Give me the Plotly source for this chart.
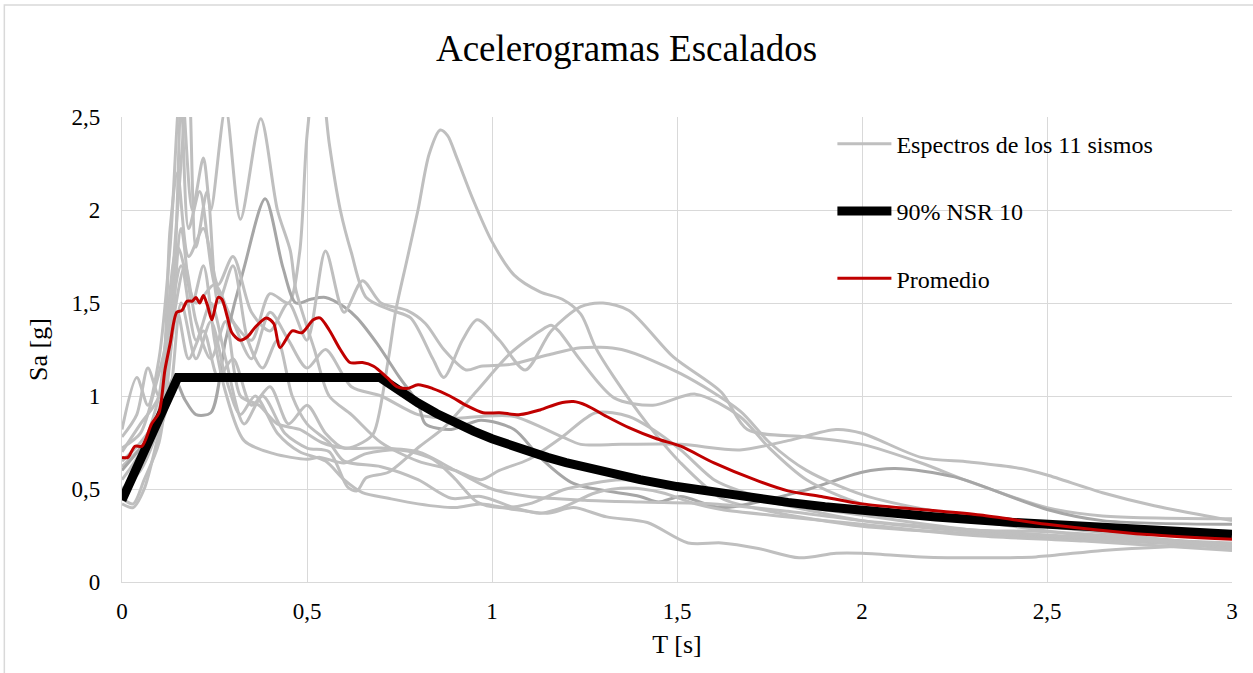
import plotly.graph_objects as go

# ---------------- data ----------------
T_A = [0, 0.04, 0.08, 0.12, 0.15, 0.18, 0.22, 0.26, 0.30, 0.35, 0.40, 0.45, 0.50, 0.55, 0.60, 0.65, 0.68, 0.72, 0.74, 0.77, 0.80, 0.83, 0.86, 0.88, 0.905, 0.95, 1.0, 1.06, 1.13, 1.19, 1.24, 1.28, 1.33, 1.42, 1.51, 1.62, 1.75, 2.0, 2.3, 2.6, 3.0]
SA_A = [0.62, 0.70, 0.80, 1.10, 1.45, 1.20, 1.35, 1.10, 1.20, 0.95, 1.05, 0.85, 0.95, 0.80, 0.72, 0.75, 0.80, 1.20, 1.46, 1.73, 2.00, 2.30, 2.43, 2.40, 2.28, 2.05, 1.83, 1.65, 1.56, 1.52, 1.44, 1.26, 1.10, 0.85, 0.64, 0.45, 0.38, 0.30, 0.26, 0.23, 0.19]

T_B = [0, 0.04, 0.07, 0.10, 0.14, 0.16, 0.18, 0.21, 0.25, 0.30, 0.35, 0.40, 0.45, 0.50, 0.55, 0.62, 0.70, 0.80, 0.90, 0.97, 1.06, 1.19, 1.24, 1.35, 1.51, 1.67, 1.80, 1.93, 2.0, 2.16, 2.29, 2.43, 2.5, 2.65, 2.79, 3.0]
SA_B = [0.78, 0.90, 1.15, 1.00, 1.60, 2.60, 1.90, 2.10, 1.60, 1.40, 1.20, 1.45, 1.30, 1.15, 1.25, 1.05, 1.00, 0.90, 0.88, 0.89, 0.89, 0.78, 0.74, 0.74, 0.74, 0.71, 0.76, 0.82, 0.80, 0.67, 0.645, 0.61, 0.575, 0.48, 0.41, 0.33]

T_C = [0, 0.05, 0.10, 0.15, 0.20, 0.25, 0.30, 0.35, 0.40, 0.45, 0.48, 0.50, 0.53, 0.56, 0.59, 0.62, 0.66, 0.73, 0.78, 0.84, 0.87, 0.92, 0.96, 1.02, 1.09, 1.16, 1.24, 1.30, 1.37, 1.49, 1.62, 1.69, 1.85, 2.0, 2.16, 2.29, 2.5, 2.65, 3.0]
SA_C = [0.55, 0.70, 1.00, 1.80, 1.50, 1.60, 1.40, 1.30, 1.55, 1.50, 1.77, 2.40, 2.85, 2.36, 2.00, 1.77, 1.53, 1.46, 1.42, 1.20, 1.10, 1.30, 1.41, 1.30, 1.14, 1.35, 1.48, 1.50, 1.46, 1.21, 1.02, 0.82, 0.78, 0.74, 0.64, 0.54, 0.40, 0.355, 0.34]

T_D = [0, 0.05, 0.10, 0.14, 0.17, 0.20, 0.24, 0.28, 0.33, 0.387, 0.435, 0.47, 0.51, 0.55, 0.60, 0.635, 0.69, 0.75, 0.80, 0.82, 0.89, 0.97, 1.06, 1.13, 1.22, 1.40, 1.45, 1.51, 1.62, 1.84, 2.0, 2.09, 2.25, 2.5, 2.65, 3.0]
SA_D = [0.60, 0.72, 0.85, 1.10, 0.98, 0.90, 0.91, 1.30, 1.69, 2.06, 1.69, 1.50, 1.52, 1.53, 1.48, 1.42, 1.28, 1.10, 0.96, 0.85, 0.82, 0.87, 0.82, 0.67, 0.53, 0.46, 0.43, 0.46, 0.40, 0.49, 0.59, 0.61, 0.565, 0.39, 0.33, 0.31]

T_E = [0, 0.03, 0.06, 0.10, 0.13, 0.16, 0.19, 0.22, 0.25, 0.28, 0.33, 0.41, 0.50, 0.535, 0.60, 0.66, 0.75, 0.84, 0.895, 0.96, 1.02, 1.10, 1.20, 1.35, 1.50, 1.70, 2.0, 2.3, 2.6, 3.0]
SA_E = [0.45, 0.42, 0.55, 0.75, 1.20, 1.90, 1.50, 1.70, 1.30, 1.02, 0.76, 0.69, 0.66, 0.67, 0.64, 0.69, 0.71, 0.66, 0.565, 0.43, 0.40, 0.42, 0.50, 0.55, 0.52, 0.45, 0.33, 0.27, 0.24, 0.21]

T_F = [0, 0.05, 0.10, 0.13, 0.15, 0.18, 0.22, 0.26, 0.30, 0.35, 0.40, 0.45, 0.50, 0.55, 0.60, 0.65, 0.70, 0.77, 0.82, 0.87, 0.93, 0.97, 1.05, 1.15, 1.24, 1.35, 1.51, 1.67, 1.75, 1.85, 2.0, 2.2, 2.5, 3.0]
SA_F = [0.70, 0.85, 1.00, 1.90, 2.20, 1.75, 1.90, 1.60, 1.75, 1.45, 1.35, 1.50, 1.30, 1.78, 1.45, 1.62, 1.50, 1.46, 1.39, 1.25, 1.14, 1.16, 1.17, 1.22, 1.26, 1.25, 1.12, 0.92, 0.75, 0.60, 0.47, 0.38, 0.30, 0.19]

T_G = [0, 0.04, 0.07, 0.10, 0.13, 0.16, 0.19, 0.22, 0.24, 0.28, 0.32, 0.375, 0.42, 0.455, 0.47, 0.52, 0.56, 0.62, 0.70, 0.80, 0.90, 0.97, 1.02, 1.10, 1.19, 1.28, 1.37, 1.435, 1.51, 1.60, 1.67, 1.8, 2.0, 2.3, 2.5, 3.0]
SA_G = [0.82, 1.10, 0.95, 1.20, 1.80, 2.70, 2.00, 2.28, 2.00, 2.55, 1.95, 2.49, 2.00, 1.78, 1.57, 1.25, 1.00, 0.90, 0.75, 0.65, 0.60, 0.55, 0.60, 0.66, 0.78, 0.91, 0.89, 0.82, 0.71, 0.55, 0.49, 0.42, 0.36, 0.28, 0.27, 0.20]

T_H = [0, 0.05, 0.10, 0.13, 0.16, 0.20, 0.24, 0.28, 0.33, 0.38, 0.44, 0.50, 0.56, 0.61, 0.635, 0.66, 0.72, 0.805, 0.87, 0.96, 1.05, 1.13, 1.16, 1.18, 1.24, 1.33, 1.435, 1.55, 1.67, 1.75, 1.85, 2.0, 2.3, 2.6, 3.0]
SA_H = [0.50, 0.60, 0.85, 1.40, 1.70, 1.30, 1.50, 1.20, 0.85, 1.00, 0.80, 0.72, 0.70, 0.51, 0.49, 0.56, 0.59, 0.73, 0.83, 1.03, 1.23, 1.35, 1.38, 1.35, 1.19, 0.99, 0.95, 1.01, 0.89, 0.72, 0.55, 0.42, 0.33, 0.25, 0.18]

T_J = [0, 0.05, 0.09, 0.12, 0.15, 0.18, 0.20, 0.23, 0.26, 0.30, 0.34, 0.38, 0.42, 0.46, 0.50, 0.56, 0.60, 0.70, 0.80, 0.89, 0.97, 1.06, 1.13, 1.19, 1.28, 1.37, 1.46, 1.55, 1.62, 1.8, 2.0, 2.3, 2.6, 3.0]
SA_J = [0.72, 0.80, 1.05, 1.30, 2.00, 2.70, 1.80, 2.10, 1.50, 1.70, 1.30, 1.15, 1.30, 1.00, 0.85, 0.75, 0.65, 0.62, 0.55, 0.45, 0.46, 0.40, 0.37, 0.40, 0.48, 0.505, 0.48, 0.42, 0.39, 0.35, 0.31, 0.25, 0.22, 0.17]

T_K = [0, 0.03, 0.06, 0.10, 0.13, 0.16, 0.20, 0.24, 0.28, 0.32, 0.36, 0.42, 0.48, 0.55, 0.60, 0.65, 0.72, 0.80, 0.90, 0.97, 1.06, 1.15, 1.22, 1.31, 1.42, 1.53, 1.62, 1.72, 1.83, 1.93, 2.0, 2.16, 2.32, 2.47, 2.65, 2.83, 3.0]
SA_K = [0.42, 0.40, 0.50, 0.80, 1.00, 1.50, 1.20, 1.40, 1.10, 0.90, 1.00, 0.80, 0.70, 0.65, 0.55, 0.48, 0.45, 0.42, 0.40, 0.42, 0.39, 0.37, 0.40, 0.35, 0.32, 0.21, 0.21, 0.18, 0.13, 0.155, 0.155, 0.135, 0.13, 0.135, 0.17, 0.19, 0.20]

T_L = [0, 0.05, 0.10, 0.13, 0.17, 0.20, 0.24, 0.28, 0.32, 0.37, 0.42, 0.48, 0.54, 0.60, 0.70, 0.80, 0.90, 1.0, 1.1, 1.25, 1.4, 1.6, 1.8, 2.0, 2.3, 2.6, 3.0]
SA_L = [0.65, 0.75, 0.90, 1.30, 1.70, 1.40, 1.20, 1.40, 1.00, 0.95, 0.85, 0.82, 0.75, 0.72, 0.72, 0.70, 0.60, 0.50, 0.46, 0.44, 0.43, 0.42, 0.38, 0.33, 0.28, 0.24, 0.20]

T_NSR = [0, 0.151, 0.697, 0.75, 0.8, 0.85, 0.9, 0.95, 1.0, 1.05, 1.1, 1.15, 1.2, 1.3, 1.4, 1.5, 1.6, 1.7, 1.8, 1.9, 2.0, 2.2, 2.4, 2.6, 2.8, 3.0]
SA_NSR = [0.44, 1.10, 1.10, 1.027, 0.963, 0.906, 0.856, 0.811, 0.770, 0.733, 0.700, 0.670, 0.642, 0.592, 0.550, 0.513, 0.481, 0.453, 0.428, 0.405, 0.385, 0.350, 0.321, 0.296, 0.275, 0.257]

T_PROM = [0, 0.016, 0.035, 0.054, 0.08, 0.10, 0.116, 0.13, 0.148, 0.162, 0.176, 0.19, 0.20, 0.21, 0.22, 0.232, 0.243, 0.26, 0.27, 0.284, 0.297, 0.319, 0.34, 0.36, 0.39, 0.41, 0.427, 0.46, 0.486, 0.517, 0.535, 0.56, 0.59, 0.616, 0.65, 0.68, 0.716, 0.743, 0.77, 0.80, 0.84, 0.886, 0.93, 0.976, 1.02, 1.076, 1.13, 1.18, 1.22, 1.255, 1.31, 1.37, 1.445, 1.51, 1.60, 1.71, 1.80, 1.89, 2.0, 2.16, 2.32, 2.5, 2.74, 3.0]
SA_PROM = [0.67, 0.67, 0.73, 0.73, 0.85, 0.91, 1.14, 1.28, 1.45, 1.46, 1.51, 1.51, 1.53, 1.50, 1.54, 1.48, 1.41, 1.53, 1.52, 1.43, 1.34, 1.30, 1.32, 1.37, 1.42, 1.39, 1.26, 1.35, 1.34, 1.41, 1.42, 1.355, 1.25, 1.18, 1.18, 1.16, 1.10, 1.05, 1.04, 1.06, 1.04, 1.0, 0.95, 0.91, 0.91, 0.90, 0.925, 0.96, 0.97, 0.95, 0.89, 0.83, 0.77, 0.73, 0.64, 0.55, 0.49, 0.46, 0.42, 0.39, 0.36, 0.31, 0.26, 0.23]

X_TICKS = [0, 0.5, 1, 1.5, 2, 2.5, 3]
Y_TICKS = [0, 0.5, 1, 1.5, 2, 2.5]

SISMOS = [(T_A, SA_A), (T_B, SA_B), (T_C, SA_C), (T_D, SA_D), (T_E, SA_E), (T_F, SA_F),
          (T_G, SA_G), (T_H, SA_H), (T_J, SA_J), (T_K, SA_K), (T_L, SA_L)]
DARK = {3}

FONT = "Liberation Serif"

fig = go.Figure()
for i, (t, sa) in enumerate(SISMOS):
    fig.add_trace(go.Scatter(
        x=t, y=sa, mode="lines",
        line=dict(color="#A6A6A6" if i in DARK else "#BFBFBF", width=3, shape="spline", smoothing=0.8),
        name="Espectros de los 11 sismos", legendgroup="g1",
        showlegend=(i == 0), hoverinfo="skip"))

fig.add_trace(go.Scatter(x=T_NSR, y=SA_NSR, mode="lines",
                         line=dict(color="#000000", width=9, shape="linear"),
                         name="90% NSR 10", legendgroup="g2"))
fig.add_trace(go.Scatter(x=T_PROM, y=SA_PROM, mode="lines",
                         line=dict(color="#C00000", width=3, shape="spline", smoothing=0.8),
                         name="Promedio", legendgroup="g3"))

# chart-area border (left and top visible)
fig.add_shape(type="rect", xref="paper", yref="paper",
              x0=-0.106, x1=1.3, y0=-0.4, y1=1.241,
              line=dict(color="#D9D9D9", width=1.5), fillcolor="rgba(0,0,0,0)", layer="below")

fig.update_layout(
    width=1253, height=673,
    margin=dict(l=122, r=21, t=117, b=91),
    paper_bgcolor="white", plot_bgcolor="white",
    separators=",.",
    font=dict(family=FONT, color="#000000", size=23),
    title=dict(text="Acelerogramas Escalados", x=0.5, xref="container", xanchor="center",
               y=0.928, yref="container", yanchor="middle",
               font=dict(family=FONT, size=37, color="#000000")),
    showlegend=True,
    legend=dict(x=0.64, y=0.99, xanchor="left", yanchor="top",
                bgcolor="rgba(0,0,0,0)", font=dict(family=FONT, size=24, color="#000000"),
                tracegroupgap=33, itemwidth=54),
    xaxis=dict(range=[0, 3], tickvals=X_TICKS, showgrid=True, gridcolor="#D9D9D9", gridwidth=1.3,
               zeroline=False, showline=True, linecolor="#D9D9D9", linewidth=1.3,
               ticks="", ticklabelstandoff=8,
               title=dict(text="T [s]", font=dict(family=FONT, size=26), standoff=12),
               tickfont=dict(family=FONT, size=23, color="#000000")),
    yaxis=dict(range=[0, 2.5], tickvals=Y_TICKS, showgrid=True, gridcolor="#D9D9D9", gridwidth=1.3,
               zeroline=False, showline=True, linecolor="#D9D9D9", linewidth=1.3,
               ticks="", ticklabelstandoff=16,
               title=dict(text="Sa [g]", font=dict(family=FONT, size=26), standoff=16),
               tickfont=dict(family=FONT, size=23, color="#000000")),
)

fig.write_html("out.html")
